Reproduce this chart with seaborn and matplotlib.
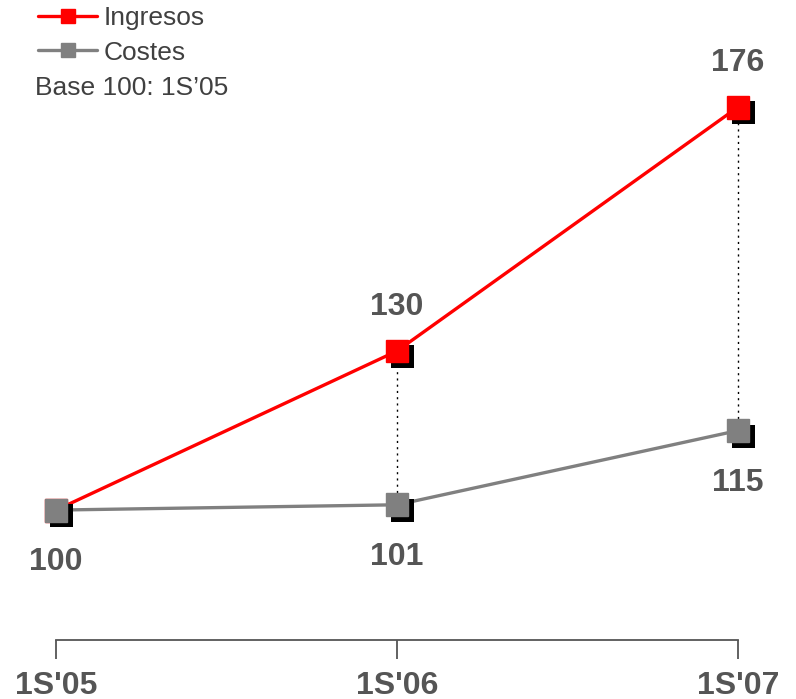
import seaborn as sns
import matplotlib.pyplot as plt
import matplotlib.patheffects as pe
from matplotlib.lines import Line2D
import pandas as pd

periodos = ["1S'05", "1S'06", "1S'07"]
ingresos = [100, 130, 176]
costes = [100, 101, 115]
series = ['Ingresos', 'Costes']
colores = {'Ingresos': '#ff0000', 'Costes': '#808080'}

sns.set_style('white')
plt.rcParams['font.family'] = ['Liberation Sans', 'DejaVu Sans']

x = list(range(len(periodos)))
df = pd.DataFrame({
    'x': x * 2,
    'valor': ingresos + costes,
    'serie': ['Ingresos'] * 3 + ['Costes'] * 3,
})

fig = plt.figure(figsize=(7.96, 6.99), dpi=100)
ax = fig.add_axes([56 / 796, 59 / 699, (738 - 56) / 796, 640 / 699])

# dotted gaps between the two series
ax.vlines(x[1:], costes[1:], ingresos[1:], colors='black', linestyles=(0, (1.5, 3)),
          lw=1, zorder=1, clip_on=False)

sns.lineplot(data=df, x='x', y='valor', hue='serie', palette=colores,
             hue_order=series, lw=2.4, legend=False, ax=ax, zorder=2)
for ln in ax.get_lines():
    ln.set_clip_on(False)

shadow = [pe.SimplePatchShadow(offset=(4, -4), shadow_rgbFace='black', alpha=1), pe.Normal()]
for s, vals in [('Ingresos', ingresos), ('Costes', costes)]:
    ax.plot(x, vals, ls='none', marker='s', ms=16.5, color=colores[s], mec=colores[s],
            path_effects=shadow, clip_on=False, zorder=3)

txt = '#555555'
for i in x:
    if i > 0:
        ax.annotate(str(ingresos[i]), (i, ingresos[i]), xytext=(0, 32), textcoords='offset points',
                    ha='center', va='center', fontsize=23, fontweight='bold', color=txt)
    ax.annotate(str(costes[i]), (i, costes[i]), xytext=(0, -37.5), textcoords='offset points',
                ha='center', va='center', fontsize=23, fontweight='bold', color=txt)

ax.set_xlim(0, 2)
ax.set_ylim(75.5, 196.2)
ax.set_xticks(x)
ax.set_xticklabels(periodos, fontsize=23, fontweight='bold', color=txt)
ax.set_yticks([])
ax.set_xlabel('')
ax.set_ylabel('')
for side in ['top', 'right', 'left']:
    ax.spines[side].set_visible(False)
ax.spines['bottom'].set_color('#555555')
ax.spines['bottom'].set_linewidth(1.3)
ax.tick_params(axis='x', direction='out', length=14, width=1.3, color='#555555', pad=8, bottom=True)

handles = [Line2D([], [], color=colores[s], lw=2.4, marker='s', ms=10) for s in series]
leg = fig.legend(handles, series, loc='upper left', bbox_to_anchor=(38 / 796, 1 - 6 / 699),
                 frameon=False, fontsize=19, handlelength=2.25, handletextpad=0.25,
                 labelspacing=0.4, borderpad=0, borderaxespad=0)
for t in leg.get_texts():
    t.set_color('#404040')
fig.text(35 / 796, 1 - 88 / 699, "Base 100: 1S’05", fontsize=19, color='#404040', va='center', ha='left')

fig.savefig('out.png', dpi=100)
